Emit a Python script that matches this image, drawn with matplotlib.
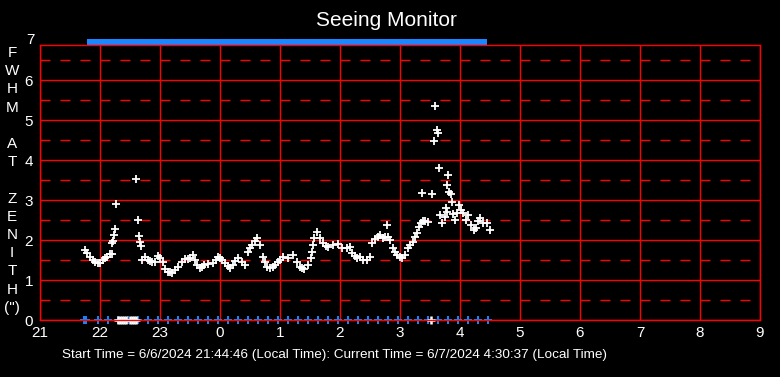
import numpy as np
import matplotlib
matplotlib.use('Agg')
import matplotlib.pyplot as plt
from matplotlib.ticker import MultipleLocator, FixedLocator

plt.rcParams['font.family'] = ['Liberation Sans', 'DejaVu Sans']

# seeing samples: minutes after 21:00 local time, FWHM in arcsec
minutes = [45, 47, 50, 53, 55, 58, 60, 63, 65, 67, 70, 72, 72, 73,
           74, 75, 76, 96, 98, 99, 100, 101, 102, 105, 108, 110, 112,
           115, 118, 120, 123, 125, 128, 130, 132, 135, 138, 142, 145, 148,
           150, 153, 155, 157, 160, 162, 164, 168, 173, 176, 178, 180, 182,
           185, 188, 190, 193, 195, 198, 202, 205, 208, 210, 212, 215, 217,
           220, 223, 225, 227, 230, 233, 235, 238, 240, 243, 248, 253, 257,
           260, 262, 264, 268, 271, 272, 273, 274, 277, 280, 283, 286, 288,
           293, 298, 302, 307, 310, 312, 315, 317, 320, 323, 327, 330, 332,
           335, 338, 340, 343, 345, 347, 348, 350, 353, 355, 357, 360, 362,
           365, 368, 370, 373, 375, 377, 379, 381, 382, 383, 385, 388, 392,
           394, 395, 397, 398, 399, 400, 402, 405, 406, 407, 408, 407, 409,
           411, 412, 413, 415, 417, 419, 421, 423, 426, 428, 431, 434, 436,
           438, 440, 443, 447, 450]
fwhm = [1.75, 1.68, 1.57, 1.50, 1.45, 1.42, 1.42, 1.50, 1.55, 1.58, 1.65,
        1.65, 1.92, 1.98, 2.12, 2.27, 2.90, 3.52, 2.50, 2.10, 1.95, 1.85,
        1.50, 1.58, 1.50, 1.47, 1.45, 1.45, 1.60, 1.55, 1.45, 1.28, 1.20,
        1.19, 1.18, 1.25, 1.32, 1.45, 1.52, 1.52, 1.56, 1.62, 1.50, 1.38,
        1.30, 1.33, 1.38, 1.40, 1.42, 1.50, 1.58, 1.55, 1.50, 1.42, 1.35,
        1.30, 1.38, 1.47, 1.55, 1.45, 1.38, 1.70, 1.80, 1.88, 1.98, 2.05,
        1.88, 1.58, 1.45, 1.32, 1.30, 1.33, 1.38, 1.45, 1.50, 1.58, 1.55,
        1.62, 1.45, 1.32, 1.30, 1.28, 1.38, 1.55, 1.70, 1.88, 2.05, 2.20,
        2.05, 1.92, 1.85, 1.82, 1.88, 1.90, 1.80, 1.80, 1.82, 1.68, 1.60,
        1.55, 1.58, 1.50, 1.50, 1.58, 1.92, 2.02, 2.08, 2.12, 2.05, 2.08,
        2.38, 2.08, 2.00, 1.80, 1.70, 1.62, 1.58, 1.55, 1.62, 1.80, 1.87,
        1.95, 2.08, 2.18, 2.32, 2.42, 3.18, 2.48, 2.48, 2.45, 3.15, 4.48,
        5.35, 4.75, 4.68, 3.80, 2.62, 2.42, 2.58, 2.80, 2.70, 3.62, 3.38,
        3.20, 3.15, 2.95, 2.65, 2.50, 2.68, 2.88, 2.75, 2.68, 2.50, 2.62,
        2.38, 2.25, 2.30, 2.48, 2.55, 2.42, 2.42, 2.25]

# status flags (minutes after 21:00)
bottom_ok = [44, 46, 58, 68, 78, 88, 98, 108, 118, 128, 138, 148, 158, 168,
             178, 188, 198, 208, 218, 228, 238, 248, 258, 268, 278, 288, 298,
             308, 318, 328, 338, 348, 358, 368, 378, 388, 398, 408, 418, 428,
             438, 448]
bottom_miss = [78, 80, 82, 84, 86, 90, 92, 94, 96, 391]
top_flags = [52, 62, 72, 82, 92, 102, 112, 122, 132, 142, 152, 162, 172, 182,
             192, 202, 212, 222, 232, 242, 252, 262, 272, 282, 292, 302, 312,
             322, 332, 342, 352, 362, 372, 382, 392, 402, 412, 422, 432, 442]

hour_ticks = [21, 22, 23, 24, 25, 26, 27, 28, 29, 30, 31, 32, 33]
hour_labels = ['21', '22', '23', '0', '1', '2', '3', '4', '5', '6', '7', '8', '9']
y_ticks = [0, 1, 2, 3, 4, 5, 6]

ylabel_letters = ['F', 'W', 'H', 'M', '', 'A', 'T', '', 'Z', 'E', 'N', 'I',
                  'T', 'H', '(")']


def to_hours(m):
    return 21 + np.array(m) / 60.0


fig = plt.figure(figsize=(7.8, 3.77), dpi=100, facecolor='black')
ax = fig.add_axes([40 / 780, 57 / 377, 720 / 780, 275 / 377])
ax.set_facecolor('black')

ax.set_xlim(21, 33)
ax.set_ylim(0, 6.875)
ax.xaxis.set_major_locator(FixedLocator(hour_ticks))
ax.set_xticklabels(hour_labels)
ax.yaxis.set_major_locator(FixedLocator(y_ticks))
ax.yaxis.set_minor_locator(MultipleLocator(0.5))

ax.grid(which='major', color='red', linewidth=1.0, linestyle='-')
ax.grid(which='minor', axis='y', color='red', linewidth=1.0,
        linestyle=(0, (7.2, 7.2)))
ax.set_axisbelow(True)
for s in ax.spines.values():
    s.set_color('red')
    s.set_linewidth(1.0)

ax.tick_params(which='both', length=0, colors='white', labelsize=11)
ax.tick_params(axis='y', pad=5)
ax.tick_params(axis='x', pad=4)
ax.text(21, 7, '7', color='white', fontsize=11, ha='right', va='center',
        transform=ax.transData + matplotlib.transforms.ScaledTranslation(
            -5 / 100, 0, fig.dpi_scale_trans), clip_on=False)

# flags
bar_marker = [(-0.9, -0.5), (0.9, -0.5), (0.9, 0.5), (-0.9, 0.5)]
ax.plot(to_hours(top_flags), [6.94] * len(top_flags), linestyle='none',
        marker=bar_marker, markersize=7.2, markeredgewidth=0,
        color='#1a86ff', clip_on=False)
ax.plot(to_hours(bottom_ok), [0] * len(bottom_ok), linestyle='none',
        marker='+', markersize=6, markeredgewidth=1.4, color='#1a86ff',
        clip_on=False)
ax.plot(to_hours(bottom_miss), [0] * len(bottom_miss), linestyle='none',
        marker='+', markersize=6, markeredgewidth=1.8, color='white',
        clip_on=False)

# seeing data
ax.plot(to_hours(minutes), fwhm, linestyle='none', marker='+',
        markersize=5.5, markeredgewidth=1.3, color='white')

fig.text(386 / 780, 1 - 20 / 377, 'Seeing Monitor', color='white',
         fontsize=15, ha='center', va='center')

for i, ch in enumerate(ylabel_letters):
    if ch:
        fig.text(12 / 780, 1 - (53 + 18.2 * i) / 377, ch, color='white',
                 fontsize=11, ha='center', va='center')

fig.text(334 / 780, 1 - 355 / 377,
         'Start Time = 6/6/2024 21:44:46 (Local Time): '
         'Current Time = 6/7/2024 4:30:37 (Local Time)',
         color='white', fontsize=9.7, ha='center', va='center')

fig.savefig('out.png', dpi=100, facecolor='black')
